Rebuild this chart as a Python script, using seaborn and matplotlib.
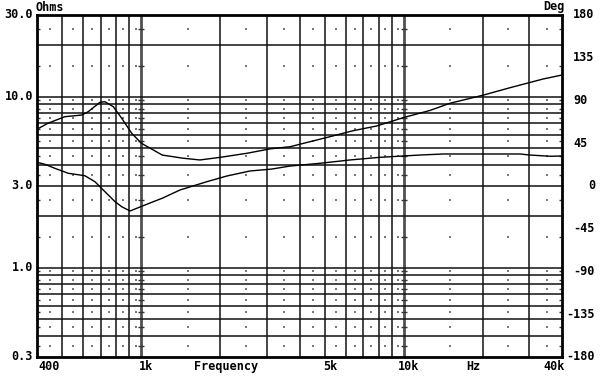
import numpy as np
import pandas as pd
import matplotlib
matplotlib.use("Agg")
import matplotlib.pyplot as plt
import matplotlib.transforms as mtransforms
import seaborn as sns

# ---------------- data ----------------
imp_freq = [400, 440, 511, 592, 627, 695, 726, 781, 841, 918, 1000, 1126, 1200,
            1443, 1670, 1990, 2520, 3100, 3680, 4390, 5230, 6410, 7870, 10000,
            12570, 14970, 20050, 25350, 33950, 40000]
impedance = [6.44, 6.98, 7.63, 7.80, 8.16, 9.26, 9.33, 8.73, 7.47, 6.10, 5.33,
             4.81, 4.55, 4.36, 4.26, 4.41, 4.66, 4.95, 5.09, 5.45, 5.83, 6.32,
             6.73, 7.55, 8.30, 9.14, 10.2, 11.27, 12.68, 13.37]

ph_freq = [400, 429, 468, 526, 609, 665, 726, 793, 841, 905, 973, 1094, 1200,
           1402, 1773, 2113, 2590, 3130, 3680, 4789, 6226, 8104, 9940, 11500,
           14130, 27670, 30200, 36000, 40000]
phase = [25, 22.8, 18.6, 13.4, 10.8, 4.5, -6.0, -16.5, -21.8, -26.3, -22.8,
         -17.2, -12.9, -4.2, 4.5, 10.5, 15.8, 17.8, 21.0, 23.9, 27.4, 30.2,
         31.6, 32.6, 33.7, 33.7, 32.6, 31.3, 31.6]

# axis ticks / labels
ohm_ticks = [30, 10, 3, 1, 0.3]
ohm_labels = ["30.0", "10.0", "3.0", "1.0", "0.3"]
deg_ticks = [180, 135, 90, 45, 0, -45, -90, -135, -180]
deg_labels = ["180", "135", "90", "45", "0", "-45", "-90", "-135", "-180"]
freq_ticks = [400, 1000, 5000, 10000, 40000]
freq_labels = ["400", "1k", "5k", "10k", "40k"]

# grid positions
grid_freqs = [500, 600, 700, 800, 900, 1000, 2000, 3000, 4000, 5000, 6000, 7000,
              8000, 9000, 10000, 20000, 30000]
major_freqs = [1000, 10000]
grid_ohms = [0.4, 0.5, 0.6, 0.7, 0.8, 0.9, 1, 2, 3, 4, 5, 6, 7, 8, 9, 10, 20]
dot_freqs = [450, 550, 650, 750, 850, 950, 1500, 2500, 3500, 4500, 5500, 6500,
             7500, 8500, 9500, 15000, 25000, 35000]
dot_ohms = [0.35, 0.45, 0.55, 0.65, 0.75, 0.85, 0.95, 1.5, 2.5, 3.5, 4.5, 5.5,
            6.5, 7.5, 8.5, 9.5, 15, 25]
tick_freqs = [400, 1000, 10000, 40000]

# ---------------- figure ----------------
sns.set_style("white")
plt.rcParams["font.family"] = ["DejaVu Sans Mono", "DejaVu Sans"]

W, H = 600, 386
fig = plt.figure(figsize=(W / 100, H / 100), dpi=100)
L, R, T, B = 37, 562, 15, 357
ax = fig.add_axes([L / W, (H - B) / H, (R - L) / W, (B - T) / H])
ax.set_xscale("log")
ax.set_yscale("log")
ax.set_xlim(400, 40000)
ax.set_ylim(0.3, 30)

# grid
for f in grid_freqs:
    if f in major_freqs:
        ax.axvline(f, color="#505050", lw=2.0, zorder=1)
    else:
        ax.axvline(f, color="#111111", lw=1.1, zorder=1)
for o in grid_ohms:
    ax.axhline(o, color="#111111", lw=1.1, zorder=1)

# dots
dots = pd.DataFrame([(f, o) for f in dot_freqs for o in dot_ohms], columns=["f", "o"])
sns.scatterplot(data=dots, x="f", y="o", ax=ax, s=2.5, color="#777777",
                marker="s", linewidth=0, zorder=2, legend=False)
ticks_df = pd.DataFrame([(f, o) for f in tick_freqs for o in dot_ohms], columns=["f", "o"])
sns.scatterplot(data=ticks_df, x="f", y="o", ax=ax, s=14, color="#333333",
                marker="_", linewidth=1.0, zorder=2, legend=False)

# impedance curve
imp_df = pd.DataFrame({"f": imp_freq, "z": impedance})
sns.lineplot(data=imp_df, x="f", y="z", ax=ax, color="black", lw=1.0,
             estimator=None, sort=False, zorder=4)

ax.set_xlim(400, 40000)
ax.set_ylim(0.3, 30)
ax.set_xticks([])
ax.set_yticks([])
ax.minorticks_off()
ax.set_xlabel("")
ax.set_ylabel("")
for s in ax.spines.values():
    s.set_color("black")
    s.set_linewidth(2.0)

# phase curve on twin axis
ax2 = ax.twinx()
ax2.set_ylim(-180, 180)
ph_df = pd.DataFrame({"f": ph_freq, "p": phase})
sns.lineplot(data=ph_df, x="f", y="p", ax=ax2, color="black", lw=1.0,
             estimator=None, sort=False, zorder=4)
ax2.set_xlim(400, 40000)
ax2.set_ylim(-180, 180)
ax2.set_yticks([])
ax2.set_ylabel("")
ax2.set_xlabel("")
for s in ax2.spines.values():
    s.set_visible(False)

fs = 8.5
tkw = dict(fontsize=fs, fontweight="bold", color="black", family=["DejaVu Sans Mono", "DejaVu Sans"])

def off(trans, dx, dy):
    return mtransforms.offset_copy(trans, fig=fig, x=dx, y=dy, units="dots")

# left ohm labels
tl = mtransforms.blended_transform_factory(ax.transAxes, ax.transData)
for v, lab in zip(ohm_ticks, ohm_labels):
    ax.text(0, v, lab, transform=off(tl, -4, 0), ha="right", va="center", **tkw)

# right degree labels
tr = mtransforms.blended_transform_factory(ax2.transAxes, ax2.transData)
for v, lab in zip(deg_ticks, deg_labels):
    if len(lab) >= 4 or lab == "0":
        ax2.text(1, v, lab, transform=off(tr, 33, 0), ha="right", va="center", **tkw)
    else:
        ax2.text(1, v, lab, transform=off(tr, 11, 0), ha="left", va="center", **tkw)

# bottom frequency labels
tb = mtransforms.blended_transform_factory(ax.transData, ax.transAxes)
for v, lab in zip(freq_ticks, freq_labels):
    if lab == "400":
        ax.text(v, 0, lab, transform=off(tb, 1, -3), ha="left", va="top", **tkw)
    elif lab == "40k":
        ax.text(v, 0, lab, transform=off(tb, 3, -3), ha="right", va="top", **tkw)
    else:
        ax.text(v, 0, lab, transform=off(tb, 5, -3), ha="center", va="top", **tkw)

ax.text(0.361, 0, "Frequency", transform=off(ax.transAxes, 0, -3), ha="center", va="top", **tkw)
ax.text(0.831, 0, "Hz", transform=off(ax.transAxes, 0, -3), ha="center", va="top", **tkw)
ax.text(0, 1, "Ohms", transform=off(ax.transAxes, -2, 7), ha="left", va="center", **tkw)
ax.text(1, 1, "Deg", transform=off(ax.transAxes, 3, 8), ha="right", va="center", **tkw)

fig.savefig("out.png", dpi=100, facecolor="white")
